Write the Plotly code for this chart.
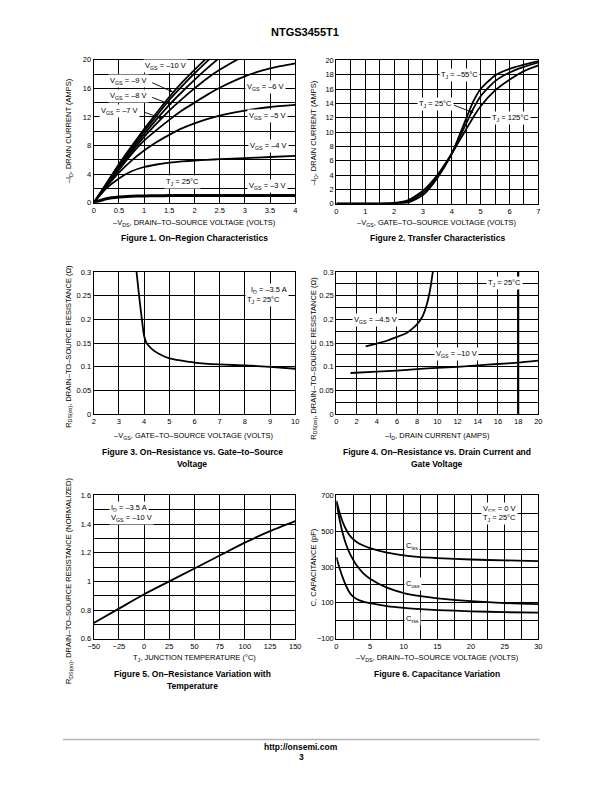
import numpy as np
import plotly.graph_objects as go

# ---------------- DATA ----------------
# Fig 1: On-region characteristics (-VDS volts, -ID amps)
f1_vds = [0, 0.25, 0.5, 0.75, 1.0, 1.25, 1.5, 1.75, 2.0, 2.25, 2.5, 3.0, 3.5, 4.0]
f1_vgs10 = [0, 2.7, 5.4, 7.9, 10.3, 12.6, 14.8, 16.8, 18.6, 20.3, 22.0, 25.0, 27.8, 30.4]
f1_vgs9 = [0, 2.6, 5.3, 7.7, 10.0, 12.2, 14.4, 16.3, 18.1, 19.8, 21.4, 24.2, 26.8, 29.0]
f1_vgs8 = [0, 2.5, 5.1, 7.4, 9.6, 11.7, 13.7, 15.5, 17.2, 18.8, 20.3, 22.8, 25.0, 26.8]
f1_vgs7 = [0, 2.4, 4.9, 7.1, 9.2, 11.1, 12.9, 14.5, 16.0, 17.4, 18.6, 20.6, 22.2, 23.4]
f1_vgs6 = [0, 2.3, 4.6, 6.8, 8.7, 10.2, 11.6, 12.9, 14.0, 15.1, 16.1, 17.7, 18.8, 19.5]
f1_vgs5 = [0, 2.2, 4.2, 5.9, 7.3, 8.5, 9.5, 10.4, 11.1, 11.7, 12.2, 12.9, 13.4, 13.7]
f1_vgs4 = [0, 2.0, 3.4, 4.4, 5.0, 5.35, 5.6, 5.78, 5.9, 6.0, 6.1, 6.25, 6.4, 6.55]
f1_vgs3 = [0, 0.55, 0.8, 0.9, 0.95, 0.98, 1.0, 1.0, 1.0, 1.0, 1.0, 1.0, 1.0, 1.0]

# Fig 2: Transfer characteristics (-VGS volts, -ID amps)
f2_vgs = [0, 1.0, 1.5, 2.0, 2.5, 3.0, 3.5, 4.0, 4.25, 4.5, 4.75, 5.0, 5.5, 6.0, 6.5, 7.0]
f2_tm55 = [0, 0, 0.0, 0.02, 0.2, 1.2, 3.6, 7.0, 9.4, 11.9, 14.3, 16.0, 17.9, 18.8, 19.4, 19.9]
f2_t25 = [0, 0, 0.0, 0.05, 0.35, 1.5, 3.8, 7.0, 9.1, 11.2, 13.3, 15.0, 17.1, 18.3, 19.1, 19.7]
f2_t125 = [0, 0, 0.01, 0.1, 0.5, 1.8, 4.0, 7.0, 8.7, 10.4, 12.1, 13.6, 15.8, 17.3, 18.5, 19.3]

# Fig 3: On-resistance vs gate-to-source voltage
f3_vgs = [3.7, 3.8, 3.9, 4.0, 4.1, 4.3, 4.6, 5.0, 5.5, 6.0, 7.0, 8.0, 9.0, 10.0]
f3_rds = [0.30, 0.25, 0.205, 0.165, 0.150, 0.138, 0.127, 0.118, 0.113, 0.109, 0.105, 0.103, 0.100, 0.096]

# Fig 4: On-resistance vs drain current
f4_id45 = [2.9, 4.0, 5.0, 6.0, 7.0, 7.5, 8.0, 8.5, 9.0, 9.3, 9.55]
f4_r45 = [0.143, 0.149, 0.155, 0.163, 0.172, 0.180, 0.190, 0.205, 0.235, 0.265, 0.30]
f4_id10 = [1.4, 4, 6, 8, 10, 12, 14, 16, 18, 20]
f4_r10 = [0.087, 0.090, 0.092, 0.095, 0.098, 0.100, 0.103, 0.106, 0.109, 0.113]
f4_marker_id = 18

# Fig 5: On-resistance vs temperature
f5_tj = [-50, -25, 0, 25, 50, 75, 100, 125, 150]
f5_rn = [0.71, 0.81, 0.91, 1.0, 1.09, 1.18, 1.27, 1.35, 1.42]

# Fig 6: Capacitance variation
f6_vds = [0, 0.5, 1, 1.5, 2, 2.5, 3, 4, 5, 7.5, 10, 12.5, 15, 20, 25, 30]
f6_ciss = [670, 600, 545, 505, 475, 455, 440, 420, 405, 380, 365, 355, 350, 342, 337, 333]
f6_coss = [660, 560, 480, 420, 375, 340, 310, 265, 235, 185, 155, 137, 125, 110, 99, 93]
f6_crss = [355, 290, 235, 190, 155, 135, 122, 107, 98, 82, 72, 65, 60, 53, 48, 45]

# ---------------- LAYOUT HELPERS ----------------
W, H = 612, 792
FONT = "Liberation Sans, Arial, Helvetica, sans-serif"


def px(x):
    return x / W


def py(y):
    return 1 - y / H


fig = go.Figure()

# plot area boxes (pixels): left, right, top, bottom
boxes = {
    1: (89.5, 295, 56.5, 201),
    2: (337, 543, 57, 202),
    3: (89.5, 295, 271, 415),
    4: (337, 543, 271, 415),
    5: (89.5, 295, 497, 642),
    6: (337, 543, 497, 642),
}

axcfg = {
    1: dict(xr=[0, 4], xd=0.5, xm=None, yr=[0, 20], yd=4, ym=2, y0=0),
    2: dict(xr=[0, 7], xd=1, xm=0.5, yr=[0, 20], yd=2, ym=None, y0=0),
    3: dict(xr=[2, 10], xd=1, xm=None, yr=[0, 0.3], yd=0.05, ym=None, y0=0),
    4: dict(xr=[0, 20], xd=2, xm=None, yr=[0, 0.3], yd=0.05, ym=0.025, y0=0),
    5: dict(xr=[-50, 150], xd=25, xm=None, yr=[0.6, 1.6], yd=0.2, ym=0.1, y0=0.6),
    6: dict(xr=[0, 30], xd=5, xm=2.5, yr=[-100, 700], yd=200, ym=100, y0=-100),
}

GW = 0.9
for i, (l, r, t, b) in boxes.items():
    c = axcfg[i]
    sfx = "" if i == 1 else str(i)
    xa = dict(domain=[px(l), px(r)], range=c["xr"], dtick=c["xd"], tick0=c["xr"][0],
              showgrid=True, gridcolor="black", gridwidth=GW, zeroline=False,
              showline=True, linecolor="black", linewidth=1.2, mirror=True,
              ticks="", tickfont=dict(size=7.5, family=FONT, color="black"),
              anchor="y" + sfx, fixedrange=True)
    if c["xm"]:
        xa["minor"] = dict(dtick=c["xm"], showgrid=True, gridcolor="black", gridwidth=GW, ticks="")
    ya = dict(domain=[py(b), py(t)], range=c["yr"], dtick=c["yd"], tick0=c["y0"],
              showgrid=True, gridcolor="black", gridwidth=GW, zeroline=False,
              showline=True, linecolor="black", linewidth=1.2, mirror=True,
              ticks="", tickfont=dict(size=7.5, family=FONT, color="black"),
              anchor="x" + sfx, fixedrange=True)
    if c["ym"]:
        ya["minor"] = dict(dtick=c["ym"], showgrid=True, gridcolor="black", gridwidth=GW, ticks="")
    fig.update_layout(**{"xaxis" + sfx: xa, "yaxis" + sfx: ya})


def add_line(x, y, ax, w=1.8):
    sfx = "" if ax == 1 else str(ax)
    fig.add_trace(go.Scatter(x=x, y=y, mode="lines", line=dict(color="black", width=w, shape="spline", smoothing=0.6),
                             xaxis="x" + sfx, yaxis="y" + sfx, showlegend=False, hoverinfo="skip"))


for ys in [f1_vgs10, f1_vgs9, f1_vgs8, f1_vgs7, f1_vgs6, f1_vgs5, f1_vgs4]:
    add_line(f1_vds, ys, 1)
add_line(f1_vds, f1_vgs3, 1, w=3)
for ys in [f2_tm55, f2_t25, f2_t125]:
    add_line(f2_vgs, ys, 2)
add_line(f3_vgs, f3_rds, 3)
add_line(f4_id45, f4_r45, 4)
add_line(f4_id10, f4_r10, 4)
add_line(f5_tj, f5_rn, 5)
for ys in [f6_ciss, f6_coss, f6_crss]:
    add_line(f6_vds, ys, 6)

fig.add_shape(type="line", xref="x4", yref="y4 domain", x0=f4_marker_id, x1=f4_marker_id, y0=0, y1=1,
              line=dict(color="black", width=2.2))

ann = []


def label(x, y, text, size=7.5, bg="white", bold=False, xanchor="center"):
    if bold:
        text = "<b>" + text + "</b>"
    ann.append(dict(x=px(x), y=py(y), xref="paper", yref="paper", text=text, showarrow=False,
                    font=dict(size=size, family=FONT, color="black"), bgcolor=bg,
                    xanchor=xanchor, yanchor="middle", borderpad=1))


def arrow(x0, y0, x1, y1):
    ann.append(dict(x=px(x1), y=py(y1), xref="paper", yref="paper", ax=x0 - x1, ay=y0 - y1,
                    axref="pixel", ayref="pixel", text="", showarrow=True, arrowhead=2,
                    arrowsize=0.8, arrowwidth=0.9, arrowcolor="black"))


# Fig 1 labels
label(163, 63, "V<sub>GS</sub> = –10 V")
label(125, 78, "V<sub>GS</sub> = –9 V")
arrow(148, 79, 170, 89)
label(125, 93, "V<sub>GS</sub> = –8 V")
arrow(148, 94, 169, 102)
label(116, 108, "V<sub>GS</sub> = –7 V")
arrow(140, 109, 160, 116)
label(265, 84, "V<sub>GS</sub> = –6 V")
label(267, 113, "V<sub>GS</sub> = –5 V")
label(268, 144, "V<sub>GS</sub> = –4 V")
label(267, 184, "V<sub>GS</sub> = –3 V")
label(180, 180, "T<sub>J</sub> = 25°C")

# Fig 2 labels
label(463, 72, "T<sub>J</sub> = –55°C")
label(438, 101, "T<sub>J</sub> = 25°C")
arrow(456, 102, 477, 110)
label(515, 115, "T<sub>J</sub> = 125°C")

# Fig 3 labels
label(268, 289, "I<sub>D</sub> = –3.5 A")
label(263, 299, "T<sub>J</sub> = 25°C")

# Fig 4 labels
label(508, 282, "T<sub>J</sub> = 25°C")
label(377, 320, "V<sub>GS</sub> = –4.5 V")
label(460, 354, "V<sub>GS</sub> = –10 V")

# Fig 5 labels
label(125, 510, "I<sub>D</sub> = –3.5 A")
label(128, 520, "V<sub>GS</sub> = –10 V")

# Fig 6 labels
label(503, 511, "V<sub>GS</sub> = 0 V")
label(503, 520, "T<sub>J</sub> = 25°C")
label(414, 548, "C<sub>iss</sub>")
label(415, 587, "C<sub>oss</sub>")
label(415, 622, "C<sub>rss</sub>")

# Axis titles
xt = [(192, 222, "–V<sub>DS</sub>, DRAIN–TO–SOURCE VOLTAGE (VOLTS)"),
      (440, 222, "–V<sub>GS</sub>, GATE–TO–SOURCE VOLTAGE (VOLTS)"),
      (192, 437, "–V<sub>GS</sub>, GATE–TO–SOURCE VOLTAGE (VOLTS)"),
      (440, 437, "–I<sub>D</sub>, DRAIN CURRENT (AMPS)"),
      (192, 662, "T<sub>J</sub>, JUNCTION TEMPERATURE (°C)"),
      (440, 662, "–V<sub>DS</sub>, DRAIN–TO–SOURCE VOLTAGE (VOLTS)")]
for x, y, t in xt:
    label(x, y, t, size=7.5, bg=None)

yt = [(64, 128, "–I<sub>D</sub>, DRAIN CURRENT (AMPS)"),
      (314, 130, "–I<sub>D</sub>, DRAIN CURRENT (AMPS)"),
      (64, 346, "R<sub>DS(on)</sub>, DRAIN–TO–SOURCE RESISTANCE (Ω)"),
      (314, 358, "R<sub>DS(on)</sub>, DRAIN–TO–SOURCE RESISTANCE (Ω)"),
      (65, 584, "R<sub>DS(on)</sub>, DRAIN–TO–SOURCE RESISTANCE (NORMALIZED)"),
      (314, 570, "C, CAPACITANCE (pF)")]
for x, y, t in yt:
    ann.append(dict(x=px(x), y=py(y), xref="paper", yref="paper", text=t, showarrow=False,
                    textangle=-90, font=dict(size=7.5, family=FONT, color="black"),
                    xanchor="center", yanchor="middle"))

# Captions
caps = [(192, 237, "Figure 1. On–Region Characteristics"),
        (440, 237, "Figure 2. Transfer Characteristics"),
        (190, 453, "Figure 3. On–Resistance vs. Gate–to–Source"),
        (190, 465, "Voltage"),
        (440, 453, "Figure 4. On–Resistance vs. Drain Current and"),
        (440, 465, "Gate Voltage"),
        (190, 678, "Figure 5. On–Resistance Variation with"),
        (190, 690, "Temperature"),
        (440, 678, "Figure 6. Capacitance Variation")]
for x, y, t in caps:
    label(x, y, t, size=8.5, bg=None, bold=True)

label(305, 28, "NTGS3455T1", size=11, bg=None, bold=True)
label(301, 752, "http://onsemi.com", size=8.5, bg=None, bold=True)
label(301, 762, "3", size=8.5, bg=None, bold=True)

fig.add_shape(type="line", xref="paper", yref="paper", x0=px(58), x1=px(544), y0=py(744), y1=py(744),
              line=dict(color="#b4b4b4", width=1.5))

fig.update_layout(width=W, height=H, margin=dict(l=0, r=0, t=0, b=0), paper_bgcolor="white",
                  plot_bgcolor="white", annotations=ann, showlegend=False,
                  font=dict(family=FONT, color="black"))

fig.write_html("out.html", config={"displayModeBar": False},
               post_script="document.body.style.margin='0';document.body.style.overflow='hidden';")
